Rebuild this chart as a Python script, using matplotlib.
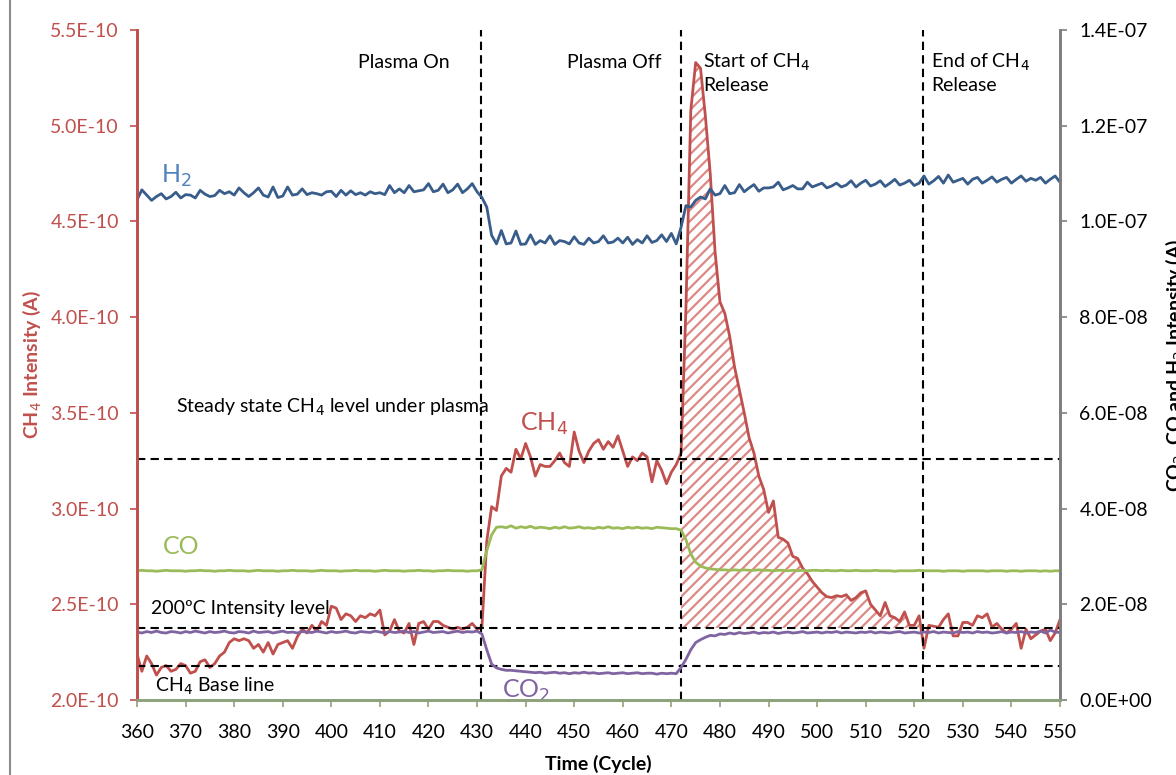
import numpy as np
import matplotlib
matplotlib.use('Agg')
import matplotlib.pyplot as plt
from matplotlib.ticker import FuncFormatter, MultipleLocator
from matplotlib.lines import Line2D

plt.rcParams['font.family'] = ['Lato', 'DejaVu Sans']
plt.rcParams['hatch.linewidth'] = 1.6

# cycle numbers
cycles = np.arange(360, 551)

# CH4 intensity (x 1E-10 A), left axis
ch4 = [2.24, 2.15, 2.23, 2.19, 2.13, 2.17, 2.18, 2.15, 2.16, 2.19,
       2.18, 2.14, 2.15, 2.20, 2.21, 2.17, 2.19, 2.23, 2.25, 2.30,
       2.32, 2.31, 2.32, 2.31, 2.27, 2.29, 2.25, 2.30, 2.24, 2.29,
       2.30, 2.31, 2.27, 2.33, 2.37, 2.35, 2.39, 2.36, 2.41, 2.39,
       2.49, 2.48, 2.42, 2.45, 2.44, 2.41, 2.44, 2.43, 2.45, 2.44,
       2.47, 2.34, 2.36, 2.42, 2.36, 2.35, 2.40, 2.29, 2.40, 2.41,
       2.37, 2.41, 2.41, 2.39, 2.38, 2.37, 2.38, 2.37, 2.38, 2.40,
       2.37, 2.38, 2.83, 3.01, 2.99, 3.17, 3.21, 3.19, 3.31, 3.26,
       3.34, 3.27, 3.17, 3.23, 3.22, 3.22, 3.25, 3.29, 3.24, 3.22,
       3.40, 3.30, 3.24, 3.30, 3.34, 3.36, 3.31, 3.35, 3.32, 3.38,
       3.30, 3.22, 3.27, 3.25, 3.29, 3.27, 3.14, 3.25, 3.20, 3.13,
       3.19, 3.23, 3.29, 4.05, 5.08, 5.33, 5.30, 5.05, 4.75, 4.34,
       4.08, 4.02, 3.90, 3.74, 3.62, 3.50, 3.37, 3.29, 3.17, 3.10,
       2.98, 3.04, 2.85, 2.84, 2.82, 2.75, 2.74, 2.69, 2.66, 2.62,
       2.59, 2.56, 2.54, 2.535, 2.545, 2.54, 2.55, 2.52, 2.535, 2.56,
       2.57, 2.50, 2.47, 2.44, 2.51, 2.44, 2.43, 2.41, 2.46, 2.39,
       2.39, 2.44, 2.27, 2.39, 2.385, 2.38, 2.42, 2.45, 2.335, 2.335,
       2.405, 2.405, 2.39, 2.44, 2.43, 2.45, 2.38, 2.40, 2.37, 2.35,
       2.37, 2.40, 2.27, 2.37, 2.32, 2.34, 2.36, 2.37, 2.31, 2.35,
       2.42]

# H2 intensity (x 1E-8 A), right axis
h2 = [10.45, 10.66, 10.55, 10.44, 10.52, 10.58, 10.47, 10.52, 10.61, 10.49,
      10.56, 10.55, 10.49, 10.65, 10.57, 10.52, 10.54, 10.65, 10.58, 10.62,
      10.55, 10.70, 10.60, 10.52, 10.60, 10.70, 10.55, 10.51, 10.72, 10.50,
      10.53, 10.72, 10.55, 10.57, 10.68, 10.56, 10.60, 10.58, 10.55, 10.62,
      10.63, 10.52, 10.65, 10.55, 10.64, 10.56, 10.60, 10.55, 10.62, 10.58,
      10.60, 10.56, 10.75, 10.60, 10.68, 10.60, 10.75, 10.62, 10.64, 10.66,
      10.79, 10.62, 10.65, 10.78, 10.60, 10.66, 10.78, 10.60, 10.68, 10.79,
      10.62, 10.50, 10.30, 9.71, 9.53, 9.81, 9.53, 9.55, 9.80, 9.52,
      9.53, 9.72, 9.52, 9.60, 9.55, 9.70, 9.52, 9.60, 9.58, 9.53,
      9.68, 9.55, 9.52, 9.65, 9.55, 9.58, 9.70, 9.55, 9.57, 9.65,
      9.55, 9.67, 9.52, 9.62, 9.55, 9.70, 9.56, 9.60, 9.72, 9.58,
      9.75, 9.53, 9.88, 10.33, 10.30, 10.44, 10.51, 10.47, 10.68, 10.55,
      10.58, 10.75, 10.58, 10.60, 10.77, 10.62, 10.70, 10.77, 10.63, 10.70,
      10.70, 10.72, 10.82, 10.66, 10.70, 10.75, 10.68, 10.68, 10.82, 10.72,
      10.76, 10.80, 10.70, 10.74, 10.80, 10.72, 10.76, 10.85, 10.72, 10.80,
      10.86, 10.74, 10.78, 10.85, 10.73, 10.80, 10.88, 10.76, 10.80, 10.86,
      10.75, 10.80, 10.95, 10.78, 10.85, 10.94, 10.80, 10.97, 10.82, 10.86,
      10.90, 10.78, 10.88, 10.92, 10.80, 10.86, 10.93, 10.82, 10.88, 10.92,
      10.80, 10.88, 10.95, 10.84, 10.90, 10.86, 10.92, 10.80, 10.88, 10.95,
      10.82]

# CO intensity (x 1E-8 A), right axis
co = [2.70, 2.71, 2.70, 2.70, 2.69, 2.70, 2.71, 2.70, 2.70, 2.70,
      2.69, 2.70, 2.70, 2.71, 2.70, 2.70, 2.69, 2.70, 2.70, 2.71,
      2.70, 2.70, 2.70, 2.69, 2.70, 2.71, 2.70, 2.70, 2.70, 2.69,
      2.70, 2.70, 2.71, 2.70, 2.70, 2.70, 2.69, 2.70, 2.71, 2.70,
      2.70, 2.70, 2.69, 2.70, 2.70, 2.71, 2.70, 2.70, 2.70, 2.69,
      2.70, 2.71, 2.70, 2.70, 2.70, 2.69, 2.70, 2.70, 2.71, 2.70,
      2.70, 2.69, 2.70, 2.70, 2.71, 2.70, 2.70, 2.70, 2.69, 2.70,
      2.70, 2.72, 3.12, 3.45, 3.61, 3.62, 3.60, 3.64, 3.59, 3.62,
      3.60, 3.63, 3.59, 3.61, 3.60, 3.58, 3.61, 3.59, 3.62, 3.59,
      3.60, 3.62, 3.59, 3.60, 3.58, 3.61, 3.59, 3.62, 3.59, 3.60,
      3.58, 3.61, 3.59, 3.61, 3.59, 3.60, 3.58, 3.61, 3.60, 3.59,
      3.58, 3.58, 3.55, 3.35, 3.05, 2.88, 2.80, 2.76, 2.74, 2.73,
      2.72, 2.72, 2.71, 2.72, 2.71, 2.72, 2.71, 2.71, 2.72, 2.71,
      2.71, 2.70, 2.71, 2.71, 2.70, 2.71, 2.70, 2.71, 2.70, 2.71,
      2.71, 2.70, 2.71, 2.70, 2.70, 2.71, 2.70, 2.70, 2.71, 2.70,
      2.70, 2.70, 2.71, 2.70, 2.70, 2.70, 2.69, 2.70, 2.70, 2.70,
      2.70, 2.71, 2.70, 2.70, 2.70, 2.70, 2.69, 2.70, 2.70, 2.70,
      2.69, 2.70, 2.70, 2.70, 2.70, 2.69, 2.70, 2.70, 2.70, 2.69,
      2.70, 2.70, 2.69, 2.70, 2.70, 2.70, 2.69, 2.70, 2.69, 2.70,
      2.70]

# CO2 intensity (x 1E-8 A), right axis
co2 = [1.42, 1.40, 1.43, 1.41, 1.44, 1.41, 1.40, 1.43, 1.42, 1.40,
       1.43, 1.41, 1.44, 1.42, 1.40, 1.43, 1.41, 1.42, 1.44, 1.41,
       1.40, 1.43, 1.42, 1.40, 1.44, 1.41, 1.42, 1.43, 1.40, 1.42,
       1.44, 1.41, 1.42, 1.40, 1.43, 1.42, 1.41, 1.44, 1.42, 1.40,
       1.43, 1.41, 1.42, 1.44, 1.41, 1.40, 1.43, 1.42, 1.41, 1.44,
       1.42, 1.40, 1.43, 1.41, 1.42, 1.44, 1.41, 1.43, 1.40, 1.42,
       1.44, 1.41, 1.42, 1.43, 1.40, 1.42, 1.44, 1.41, 1.43, 1.42,
       1.44, 1.38, 1.05, 0.75, 0.67, 0.64, 0.62, 0.62, 0.61, 0.60,
       0.59, 0.58, 0.57, 0.58, 0.56, 0.57, 0.58, 0.56, 0.57, 0.55,
       0.57, 0.56, 0.58, 0.56, 0.57, 0.55, 0.56, 0.57, 0.55, 0.56,
       0.57, 0.55, 0.56, 0.57, 0.55, 0.56, 0.56, 0.54, 0.56, 0.55,
       0.56, 0.55, 0.68, 0.85, 1.05, 1.20, 1.26, 1.31, 1.35, 1.34,
       1.38, 1.37, 1.40, 1.38, 1.41, 1.39, 1.40, 1.42, 1.39, 1.41,
       1.40, 1.42, 1.39, 1.41, 1.42, 1.40, 1.41, 1.43, 1.40, 1.41,
       1.42, 1.40, 1.42, 1.41, 1.43, 1.40, 1.42, 1.41, 1.40, 1.42,
       1.41, 1.43, 1.40, 1.42, 1.41, 1.40, 1.42, 1.43, 1.40, 1.41,
       1.42, 1.40, 1.42, 1.41, 1.43, 1.40, 1.42, 1.41, 1.40, 1.43,
       1.41, 1.42, 1.40, 1.43, 1.41, 1.42, 1.40, 1.41, 1.43, 1.40,
       1.42, 1.41, 1.43, 1.40, 1.42, 1.41, 1.44, 1.40, 1.46, 1.42,
       1.41]

# reference levels (x 1E-10 A) and event cycles
steady_level = 3.26
level_200c = 2.377
base_level = 2.178
event_cycles = [430.8, 472.0, 521.8]
release_start, release_end = 472, 521

red = '#C0504D'
blue_line = '#385D8A'
blue_txt = '#4F81BD'
green = '#9BBB59'
purple = '#8064A2'

fig = plt.figure(figsize=(11.76, 7.75), dpi=100)
ax = fig.add_axes([137 / 1176, 1 - 700 / 775, 923 / 1176, 670 / 775])
ax2 = ax.twinx()

x = cycles
y_ch4 = np.array(ch4) * 1e-10
mask = (x >= release_start) & (x <= release_end)
ax.fill_between(x, y_ch4, level_200c * 1e-10, where=mask & (y_ch4 > level_200c * 1e-10),
                facecolor='white', edgecolor='#DC8986', hatch='///', linewidth=0, zorder=1)
ax.plot(x, y_ch4, color=red, lw=2, zorder=3)

dash = (0, (4, 2.5))
for lv in [steady_level, level_200c, base_level]:
    ax.axhline(lv * 1e-10, color='black', ls=dash, lw=1.5, zorder=4)
for ev in event_cycles:
    ax.axvline(ev, color='black', ls=dash, lw=1.5, zorder=4)

ax2.plot(x, np.array(h2) * 1e-8, color=blue_line, lw=2)
ax2.plot(x, np.array(co) * 1e-8, color=green, lw=2)
ax2.plot(x, np.array(co2) * 1e-8, color=purple, lw=2)

ax.set_xlim(360, 550)
ax.set_ylim(2.0e-10, 5.5e-10)
ax2.set_ylim(0, 1.4e-7)
ax.xaxis.set_major_locator(MultipleLocator(10))
ax.yaxis.set_major_locator(MultipleLocator(0.5e-10))
ax2.yaxis.set_major_locator(MultipleLocator(2e-8))
sci = FuncFormatter(lambda v, p: '{:.1E}'.format(v))
ax.yaxis.set_major_formatter(sci)
ax2.yaxis.set_major_formatter(sci)

ax.tick_params(axis='y', colors=red, labelsize=14, length=5, direction='out', width=1.2, pad=8)
ax.tick_params(axis='x', colors='#8EA37C', labelcolor='black', labelsize=14, length=5,
               width=1.2, pad=12)
ax2.tick_params(axis='y', colors='#7F7F7F', labelcolor='black', labelsize=14, length=5,
                width=1.2, pad=9)

for a in (ax, ax2):
    a.spines['top'].set_visible(False)
    a.spines['left'].set_color(red)
    a.spines['right'].set_color('#7F7F7F')
    a.spines['bottom'].set_color('#8EA37C')
    for s in a.spines.values():
        s.set_linewidth(2)

ax.set_xlabel('Time (Cycle)', fontsize=14, fontweight='bold', labelpad=10)
fig.text(32 / 1176, 1 - 365 / 775, 'CH$_4$ Intensity (A)', rotation=90, color=red,
         fontsize=14, fontweight='bold', ha='center', va='center')
fig.text(1163 / 1176, 1 - 365 / 775, 'CO$_2$, CO and H$_2$ Intensity (A)', rotation=90,
         fontsize=14, fontweight='bold', ha='left', va='center')

# annotations (left axis data coordinates)
t = dict(fontsize=14, color='black', zorder=6)
ax.text(415.0, 5.33e-10, 'Plasma On', ha='center', va='center', **t)
ax.text(458.2, 5.33e-10, 'Plasma Off', ha='center', va='center', **t)
ax.text(476.5, 5.33e-10, 'Start of CH$_4$', ha='left', va='center', **t)
ax.text(476.5, 5.21e-10, 'Release', ha='left', va='center', **t)
ax.text(523.4, 5.33e-10, 'End of CH$_4$', ha='left', va='center', **t)
ax.text(523.4, 5.21e-10, 'Release', ha='left', va='center', **t)
ax.text(368.0, 3.53e-10, 'Steady state CH$_4$ level under plasma', ha='left', va='center', **t)
ax.text(362.9, 2.48e-10, '200ºC Intensity level', ha='left', va='center', **t)
ax.text(363.7, 2.07e-10, 'CH$_4$ Base line', ha='left', va='center', **t)

ax.text(364.9, 4.74e-10, 'H$_2$', color=blue_txt, fontsize=18, ha='left', va='center')
ax.text(365.4, 2.80e-10, 'CO', color=green, fontsize=18, ha='left', va='center')
ax.text(438.8, 3.44e-10, 'CH$_4$', color=red, fontsize=18, ha='left', va='center')
ax.text(435.1, 2.05e-10, 'CO$_2$', color=purple, fontsize=18, ha='left', va='center')

fig.add_artist(Line2D([9.5 / 1176, 9.5 / 1176], [0, 1], color='#8C8C8C', lw=1.5))

fig.savefig('out.png', dpi=100)
